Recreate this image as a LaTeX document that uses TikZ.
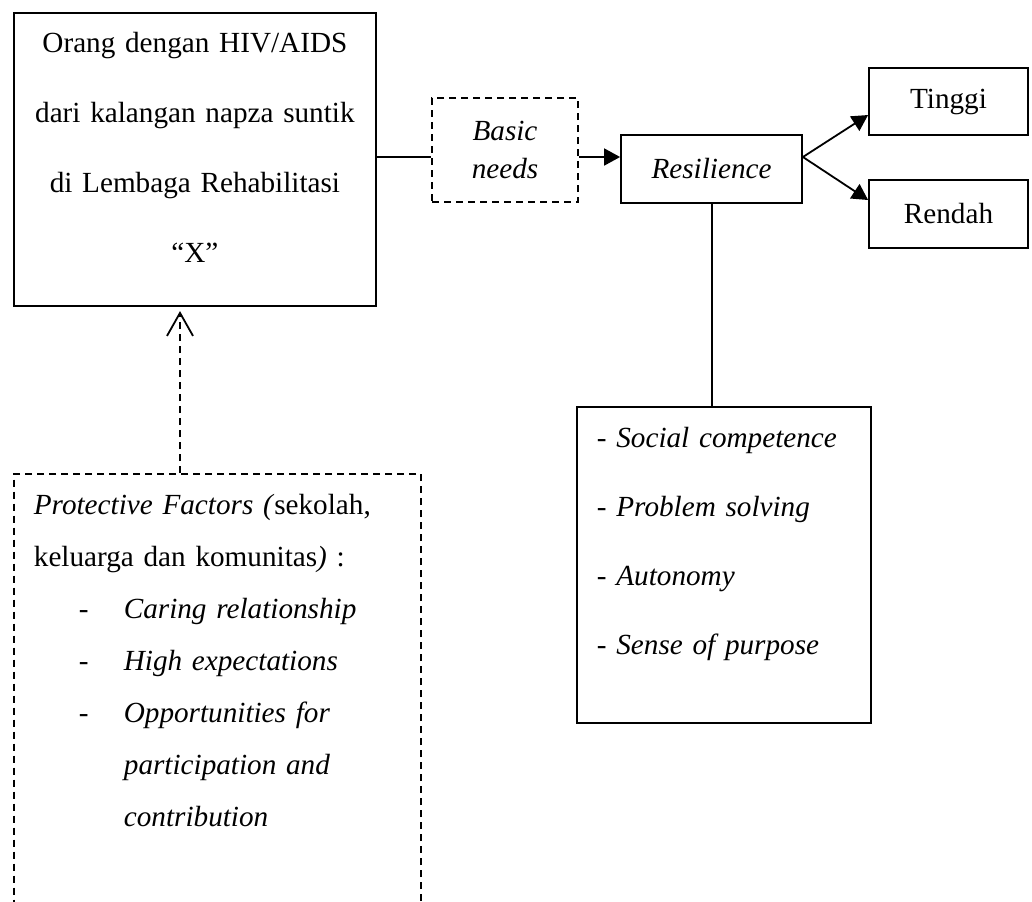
\documentclass[tikz,border=0pt]{standalone}
\usepackage{fontspec}
\setmainfont{Liberation Serif}
\usetikzlibrary{arrows.meta,positioning}

\tikzset{
  box/.style={draw,line width=0.9pt,font=\fontsize{14.6}{19}\selectfont},
  dashbox/.style={box,dash pattern=on 3.5pt off 2.5pt},
  conn/.style={line width=0.9pt},
  tri/.style={conn,-{Triangle[length=8pt,width=8.5pt]}},
}
\newcommand{\pitem}[1]{\hspace*{22.5pt}-\hspace*{17.6pt}\textit{#1}}
\newcommand{\pcont}[1]{\hspace*{45pt}\textit{#1}}

\begin{document}
\begin{tikzpicture}[x=0.5pt,y=-0.5pt]
\useasboundingbox (0,0) rectangle (1032,901);
\clip (0,0) rectangle (1032,901);

% --- subject and protective factors ---
\node[box,anchor=north west,text width=171pt,align=center,inner xsep=5pt,inner ysep=9.5pt,
      text depth=117.5pt,font=\fontsize{14.6}{35}\selectfont]
  (odha) at (13,12) {Orang dengan HIV/AIDS\\dari kalangan napza suntik\\di Lembaga Rehabilitasi\\“X”};
\node[dashbox,anchor=north west,text width=183.5pt,align=left,inner sep=10pt,
      text depth=250pt,font=\fontsize{14.6}{26}\selectfont]
  (prot) at (13,473) {\textit{Protective Factors (}sekolah,\\
    keluarga dan komunitas\textit{)} :\\
    \pitem{Caring relationship}\\
    \pitem{High expectations}\\
    \pitem{Opportunities for}\\
    \pcont{participation and}\\
    \pcont{contribution}};

% --- resilience chain ---
\node[dashbox,minimum width=73pt,minimum height=52pt,align=center,
      font=\itshape\fontsize{14.6}{19}\selectfont] (needs) at (505,150) {Basic\\needs};
\node[box,minimum width=90.5pt,minimum height=34pt,font=\itshape\fontsize{14.6}{19}\selectfont]
  (resil) at (711.5,169) {Resilience};
\node[box,minimum width=79.5pt,minimum height=33.5pt] (tinggi) at (948.5,101.5) {Tinggi};
\node[box,minimum width=79.5pt,minimum height=34pt] (rendah) at (948.5,214) {Rendah};
\node[box,anchor=north west,text width=127pt,align=left,inner sep=10pt,text depth=128pt,
      font=\itshape\fontsize{14.6}{34.5}\selectfont]
  (skills) at (576,406) {- Social competence\\- Problem solving\\- Autonomy\\- Sense of purpose};

% --- connectors ---
\coordinate (lvl) at (0,157);
\coordinate (up) at (180,0);
\coordinate (down) at (712,0);
\path (odha.south -| up) ++(0,4) coordinate (tip);
\draw[conn] (odha.east |- lvl) -- (needs.west |- lvl);
\draw[tri] (needs.east |- lvl) -- (resil.west |- lvl);
\draw[tri] (resil.east |- lvl) -- ([yshift=-6.75pt]tinggi.west);
\draw[tri] (resil.east |- lvl) -- ([yshift=7pt]rendah.west);
\draw[conn] (resil.south -| down) -- (skills.north -| down);
\draw[conn,dash pattern=on 3.5pt off 2.5pt,-{Straight Barb[length=11.5pt,width=13pt]}]
  (prot.north -| up) -- (tip);

\end{tikzpicture}
\end{document}
